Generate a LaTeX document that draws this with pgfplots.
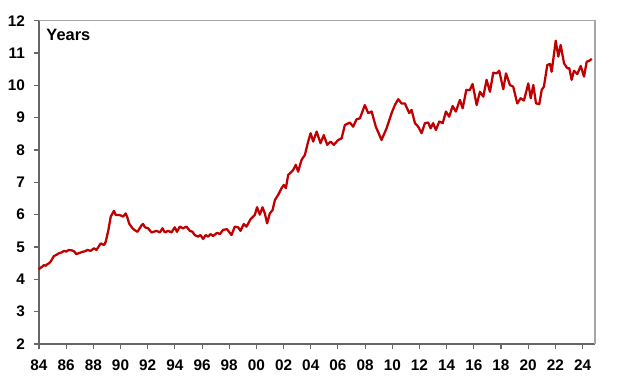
\documentclass[border=0pt]{standalone}
\usepackage{pgfplots}
\pgfplotsset{compat=1.18}
\usepackage{fontspec}
\setmainfont{Liberation Sans}
\usetikzlibrary{calc}
\definecolor{linered}{RGB}{192,0,0}
\pgfplotstableread{
x y
1984.00 4.30
1984.05 4.34
1984.20 4.38
1984.37 4.44
1984.50 4.42
1984.62 4.47
1984.75 4.50
1984.86 4.55
1985.10 4.72
1985.30 4.76
1985.47 4.81
1985.65 4.83
1985.84 4.88
1986.00 4.86
1986.20 4.91
1986.46 4.89
1986.60 4.86
1986.75 4.78
1987.00 4.82
1987.20 4.85
1987.40 4.87
1987.56 4.91
1987.80 4.88
1988.05 4.96
1988.23 4.91
1988.40 5.02
1988.54 5.11
1988.79 5.06
1988.91 5.16
1989.11 5.53
1989.28 5.94
1989.52 6.12
1989.65 5.99
1989.89 5.99
1990.05 5.97
1990.19 5.94
1990.38 6.04
1990.50 5.92
1990.63 5.73
1990.88 5.58
1991.05 5.52
1991.25 5.47
1991.56 5.68
1991.66 5.71
1991.80 5.61
1992.03 5.58
1992.28 5.45
1992.65 5.50
1992.89 5.45
1993.09 5.58
1993.26 5.45
1993.50 5.50
1993.75 5.45
1993.99 5.61
1994.16 5.47
1994.36 5.63
1994.60 5.58
1994.85 5.63
1995.10 5.50
1995.30 5.47
1995.46 5.37
1995.71 5.32
1995.88 5.37
1996.08 5.25
1996.27 5.37
1996.45 5.32
1996.62 5.40
1996.81 5.34
1997.11 5.44
1997.31 5.40
1997.55 5.53
1997.84 5.55
1998.17 5.37
1998.41 5.63
1998.65 5.61
1998.83 5.50
1999.07 5.71
1999.27 5.63
1999.57 5.86
1999.88 5.99
2000.05 6.23
2000.25 6.00
2000.45 6.23
2000.62 6.04
2000.79 5.73
2000.99 6.04
2001.19 6.14
2001.36 6.45
2001.60 6.61
2001.85 6.82
2002.02 6.92
2002.17 6.82
2002.34 7.23
2002.59 7.33
2002.70 7.38
2002.90 7.54
2003.07 7.33
2003.32 7.69
2003.57 7.85
2003.81 8.26
2003.99 8.52
2004.18 8.26
2004.43 8.57
2004.72 8.21
2004.96 8.46
2005.21 8.16
2005.46 8.26
2005.70 8.16
2006.02 8.31
2006.27 8.36
2006.51 8.77
2006.88 8.85
2007.12 8.72
2007.37 8.95
2007.62 8.98
2007.98 9.39
2008.23 9.14
2008.48 9.19
2008.79 8.72
2009.21 8.31
2009.58 8.67
2009.95 9.14
2010.19 9.39
2010.44 9.57
2010.69 9.44
2010.93 9.44
2011.25 9.14
2011.42 9.24
2011.67 8.83
2011.91 8.72
2012.16 8.52
2012.40 8.83
2012.65 8.85
2012.82 8.67
2013.01 8.83
2013.21 8.62
2013.46 8.88
2013.71 8.83
2013.95 9.19
2014.19 9.03
2014.44 9.36
2014.68 9.19
2014.98 9.55
2015.18 9.29
2015.45 9.86
2015.70 9.85
2015.91 10.04
2016.21 9.39
2016.45 9.80
2016.70 9.65
2016.94 10.17
2017.19 9.80
2017.43 10.39
2017.68 10.37
2017.87 10.45
2018.17 9.88
2018.37 10.37
2018.66 10.01
2018.90 9.96
2019.20 9.44
2019.45 9.60
2019.69 9.53
2020.01 10.06
2020.19 9.60
2020.38 10.01
2020.58 9.44
2020.82 9.42
2021.00 9.86
2021.16 9.96
2021.41 10.63
2021.61 10.66
2021.73 10.42
2022.03 11.38
2022.22 10.89
2022.39 11.25
2022.64 10.68
2022.88 10.53
2023.03 10.53
2023.20 10.17
2023.37 10.45
2023.62 10.35
2023.87 10.60
2024.11 10.27
2024.31 10.73
2024.50 10.76
2024.68 10.82
}\datatable
\begin{document}
\begin{tikzpicture}
\begin{axis}[
  scale only axis,
  width=417pt, height=242.5pt,
  xmin=1984, xmax=2024.92,
  ymin=2, ymax=12,
  axis x line*=bottom, axis y line*=left,
  xtick={1984,1986,...,2024},
  xticklabels={84,86,88,90,92,94,96,98,00,02,04,06,08,10,12,14,16,18,20,22,24},
  ytick={2,3,...,12},
  tick align=outside,
  major tick length=3.5pt,
  axis line style={black!60, line width=0.8pt, -},
  tick style={black!60, line width=0.8pt},
  /pgf/number format/assume math mode=true,
  ticklabel style={font=\fontsize{11.5}{13}\selectfont\bfseries},
  xticklabel style={anchor=north, yshift=-4.5pt, text height=8.4pt, text depth=0pt},
  yticklabel style={xshift=-3.5pt},
  clip=false,
]
\draw[black!35, line width=0.8pt] (rel axis cs:0,1) -- (rel axis cs:1,1) -- (rel axis cs:1,0);
\addplot[color=linered, line width=1.7pt, line join=round] table[x=x,y=y] {\datatable};
\node[anchor=north west, font=\fontsize{12.3}{14}\selectfont\bfseries, inner sep=0pt] at (axis description cs:0.013,0.973) {Years};
\end{axis}
\path ($(current axis.south west)+(-29.25pt,-28.5pt)$) rectangle ($(current axis.north east)+(25.5pt,15.5pt)$);
\end{tikzpicture}
\end{document}
